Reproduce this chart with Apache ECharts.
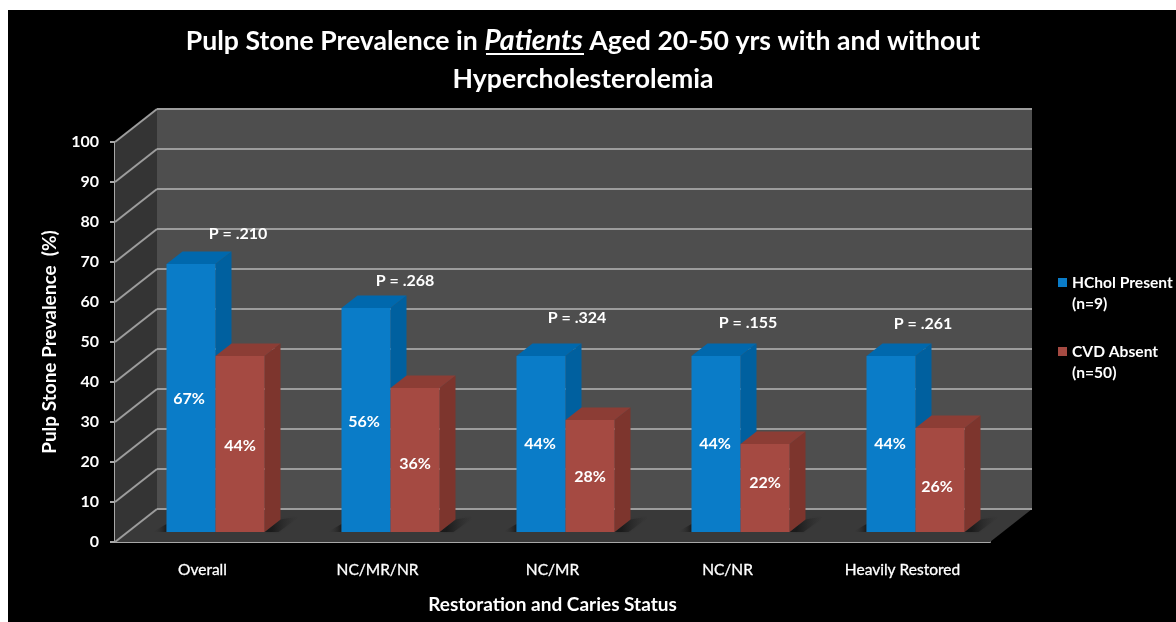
<!DOCTYPE html>
<html>
<head>
<meta charset="utf-8">
<style>html,body{margin:0;padding:0;background:#fff}#chart{width:1176px;height:622px}</style>
<script src="https://cdn.jsdelivr.net/npm/echarts@6/dist/echarts.min.js"></script>
</head>
<body>
<div id="chart"></div>
<script>
// Values
const categories = ['Overall', 'NC/MR/NR', 'NC/MR', 'NC/NR', 'Heavily Restored'];
const hcholPresent = [67, 56, 44, 44, 44];
const cvdAbsent = [44, 36, 28, 22, 26];
const pValues = ['P = .210', 'P = .268', 'P = .324', 'P = .155', 'P = .261'];
const valueTicks = [0, 10, 20, 30, 40, 50, 60, 70, 80, 90, 100];

// Oblique projection of the chart box, in pixels
const WALL_DX = 42, WALL_DY = 33;
const BAR_DX = 13, BAR_DY = 10;
const SIDE_DX = 16, SIDE_DY = 12.5;
const BAR_W = 49;

const FONT = 'Lato, "Open Sans", sans-serif';

function poly(points, fill, extra) {
  return Object.assign({ type: 'polygon', shape: { points }, style: { fill } , silent: true}, extra || {});
}

// Back wall, side wall and floor, drawn once from the plot rectangle
function renderWalls(params) {
  const c = params.coordSys;
  const l = c.x, r = c.x + c.width, t = c.y, b = c.y + c.height;
  return {
    type: 'group',
    children: [
      poly([[l + WALL_DX, t - WALL_DY], [r + WALL_DX, t - WALL_DY], [r + WALL_DX, b - WALL_DY], [l + WALL_DX, b - WALL_DY]], '#4e4e4e'),
      poly([[l, t], [l + WALL_DX, t - WALL_DY], [l + WALL_DX, b - WALL_DY], [l, b]], '#343434'),
      poly([[l, b], [l + WALL_DX, b - WALL_DY], [r + WALL_DX, b - WALL_DY], [r, b]], '#393939')
    ]
  };
}

// One gridline per tick: along the side wall, then across the back wall
function renderGridline(params, api) {
  const c = params.coordSys;
  const p = api.coord([0, api.value(1)]);
  const y = p[1], l = c.x, r = c.x + c.width;
  const stroke = { stroke: '#9c9c9c', lineWidth: 2, fill: null };
  return {
    type: 'group',
    children: [
      { type: 'line', shape: { x1: l, y1: y, x2: l + WALL_DX, y2: y - WALL_DY }, style: stroke, silent: true },
      { type: 'line', shape: { x1: l + WALL_DX, y1: y - WALL_DY, x2: r + WALL_DX, y2: y - WALL_DY }, style: stroke, silent: true }
    ]
  };
}

// Shadow that fades away across the floor on either side of a bar pair
function fade(x0, x1) {
  return new echarts.graphic.LinearGradient(x0, 0, x1, 0, [
    { offset: 0, color: 'rgba(26,26,26,0.95)' },
    { offset: 1, color: 'rgba(57,57,57,0)' }
  ]);
}
function renderShadow(params, api) {
  const base = api.coord([api.value(0), 0]);
  const cx = base[0] + BAR_DX, y = base[1] - BAR_DY;
  const right = cx + BAR_W, left = cx - BAR_W;
  return {
    type: 'group',
    children: [
      poly([[right, y], [right + SIDE_DX, y - SIDE_DY], [right + 36, y - 16], [right + 14, y]], fade(0.2, 1),
        { style: { fill: fade(0.2, 1), shadowBlur: 3, shadowColor: 'rgba(40,40,40,0.6)' } }),
      poly([[left - 14, y], [left, y - 8], [left, y]], fade(1, 0))
    ]
  };
}

// Builds a renderer for a bar with front, side and top faces; slot is -1 or 0 in the pair
function barRenderer(slot, front, side, top, nudges) {
  return function (params, api) {
    const i = api.value(0), v = api.value(1);
    const base = api.coord([i, 0]), head = api.coord([i, v]);
    const x0 = base[0] + BAR_DX + slot * BAR_W, x1 = x0 + BAR_W;
    const y0 = base[1] - BAR_DY, y1 = head[1] - BAR_DY;
    const n = nudges[i];
    return {
      type: 'group',
      children: [
        poly([[x1, y0], [x1 + SIDE_DX, y0 - SIDE_DY], [x1 + SIDE_DX, y1 - SIDE_DY], [x1, y1]], side),
        poly([[x0, y1], [x0 + SIDE_DX, y1 - SIDE_DY], [x1 + SIDE_DX, y1 - SIDE_DY], [x1, y1]], top),
        poly([[x0, y0], [x1, y0], [x1, y1], [x0, y1]], front),
        {
          type: 'text', silent: true,
          style: {
            text: v + '%', x: (x0 + x1) / 2 + n[0], y: (y0 + y1) / 2 + n[1],
            align: 'center', verticalAlign: 'middle', fill: '#fff',
            font: 'bold 16px ' + FONT
          }
        }
      ]
    };
  };
}

const blueNudges = [[-2, 1], [-2, 2], [-1, 0], [-1, 0], [-1, 0]];
const redNudges = [[0, 2], [0, 4], [0, 1], [0, -5], [-3, 7]];

const floorData = categories.map((_, i) => [i, 0]);

const option = {
  backgroundColor: '#fff',
  animation: false,
  title: {
    left: 578, top: 17, textAlign: 'center',
    text: '{b|Pulp Stone Prevalence in }{i|Patients}{b| Aged 20-50 yrs with and without}\n{b|Hypercholesterolemia}',
    textStyle: {
      color: '#fff', lineHeight: 38,
      rich: {
        b: { color: '#fff', fontFamily: FONT, fontWeight: 'bold', fontSize: 26.6, lineHeight: 38 },
        i: { color: '#fff', fontFamily: FONT, fontWeight: 'bold', fontStyle: 'italic', fontSize: 28.5, lineHeight: 38 }
      }
    }
  },
  legend: {
    left: 1053, top: 267, orient: 'vertical', itemGap: 27,
    itemWidth: 9, itemHeight: 42,
    icon: 'path://M0 0H9M0 6H9V15H0ZM0 42H9',
    selectedMode: false,
    data: ['HChol Present', 'CVD Absent'],
    formatter: name => name === 'HChol Present' ? 'HChol Present\n(n=9)' : 'CVD Absent\n(n=50)',
    textStyle: { color: '#fff', fontFamily: FONT, fontWeight: 'bold', fontSize: 15.6, lineHeight: 21 },
    itemStyle: { borderWidth: 0 }
  },
  grid: { left: 115, top: 142, width: 875, height: 400, outerBoundsMode: 'none' },
  xAxis: {
    type: 'category', data: categories,
    name: 'Restoration and Caries Status', nameLocation: 'middle', nameGap: 53,
    nameTextStyle: { color: '#fff', fontFamily: FONT, fontWeight: 'bold', fontSize: 19 },
    axisLine: { lineStyle: { color: '#a8a8a8', width: 2 } },
    axisTick: { show: false },
    axisLabel: { color: '#fff', fontFamily: FONT, fontSize: 15.5, margin: 20, interval: 0, textBorderColor: '#fff', textBorderWidth: 0.3 },
    splitLine: { show: false }
  },
  yAxis: {
    type: 'value', min: 0, max: 100, interval: 10,
    name: 'Pulp Stone Prevalence  (%)', nameLocation: 'middle', nameGap: 56,
    nameTextStyle: { color: '#fff', fontFamily: FONT, fontWeight: 'bold', fontSize: 19 },
    axisLine: { show: true, lineStyle: { color: '#a8a8a8', width: 2 } },
    axisTick: { show: true, length: 5, lineStyle: { color: '#a8a8a8', width: 2 } },
    axisLabel: { color: '#fff', fontFamily: FONT, fontWeight: 'bold', fontSize: 16, margin: 16 },
    splitLine: { show: false }
  },
  series: [
    { name: 'walls', type: 'custom', data: [[0, 0]], renderItem: renderWalls, silent: true, z: 1 },
    { name: 'gridlines', type: 'custom', data: valueTicks.map(t => [0, t]), renderItem: renderGridline, silent: true, z: 2 },
    { name: 'shadows', type: 'custom', data: floorData, renderItem: renderShadow, silent: true, z: 3 },
    {
      name: 'HChol Present', type: 'custom', z: 4,
      data: hcholPresent.map((v, i) => [i, v]),
      itemStyle: { color: '#0a7cc8' },
      renderItem: barRenderer(-1, '#0a7cc8', '#00609f', '#0068ad', blueNudges)
    },
    {
      name: 'CVD Absent', type: 'custom', z: 5,
      data: cvdAbsent.map((v, i) => [i, v]),
      itemStyle: { color: '#a54a42' },
      renderItem: barRenderer(0, '#a54a42', '#7d352d', '#8c3d35', redNudges)
    }
  ],
  graphic: [
    { type: 'rect', z: -100, silent: true, shape: { x: 8, y: 10, width: 1168, height: 612 }, style: { fill: '#000' } },
    { type: 'line', z: 100, silent: true, shape: { x1: 486, y1: 54, x2: 584, y2: 54 }, style: { stroke: '#fff', lineWidth: 2 } },
    ...pValues.map((t, i) => ({
      type: 'text', z: 100, silent: true,
      x: [238, 405, 577, 748, 923][i], y: [234, 281, 318, 323, 324][i],
      style: { text: t, align: 'center', verticalAlign: 'middle', fill: '#fff', font: 'bold 16px ' + FONT }
    }))
  ]
};

echarts.init(document.getElementById('chart'), null, { renderer: 'canvas' }).setOption(option);
</script>
</body>
</html>
